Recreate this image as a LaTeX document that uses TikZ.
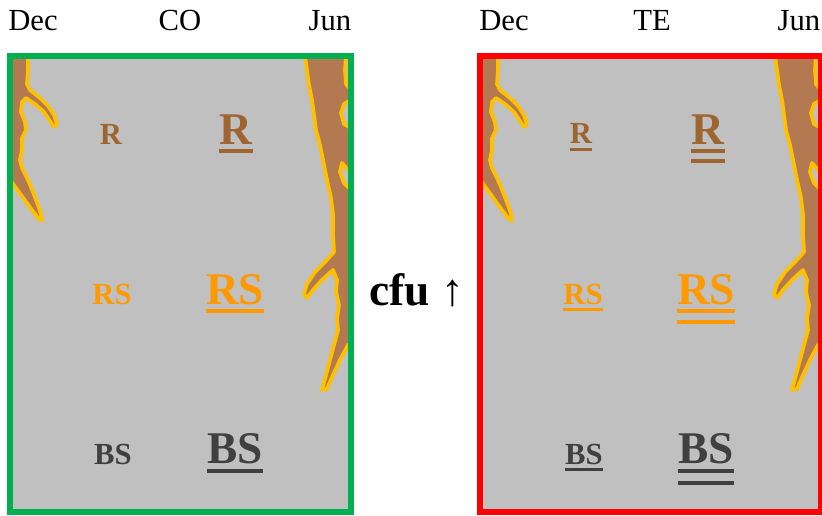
\documentclass[tikz,border=0pt]{standalone}
\usepackage{fontspec}
\setmainfont{Liberation Serif}
\usetikzlibrary{calc}

\definecolor{panelgray}{HTML}{C0C0C0}
\definecolor{cogreen}{HTML}{00B050}
\definecolor{tered}{HTML}{FF0000}
\definecolor{rootbrown}{HTML}{B37A52}
\definecolor{rootgold}{HTML}{FFC000}
\definecolor{rcol}{HTML}{9E6530}
\definecolor{rscol}{HTML}{FF9900}
\definecolor{bscol}{HTML}{404040}

\tikzset{
  frame/.style={line width=4.5pt},
  root/.style={fill=rootbrown, draw=rootgold, line width=2.8pt, line join=round},
  head/.style={font=\fontsize{23}{23}\selectfont, anchor=base, inner sep=0pt},
  small/.style={font=\bfseries\fontsize{23}{23}\selectfont, anchor=base, inner sep=0pt},
  big/.style={font=\bfseries\fontsize{34}{34}\selectfont, anchor=base, inner sep=0pt},
  thinul/.style={line width=2.25pt},
  thickul/.style={line width=3pt},
}

\begin{document}
\begin{tikzpicture}[x=0.75pt,y=-0.75pt]
\useasboundingbox (0,0) rectangle (822,515);

% gray panels with the roots on them
\foreach \dx in {0,470}{
\begin{scope}[shift={(\dx,0)}]
  \fill[panelgray] (10,56) rectangle (351,512);
  % root coming in from the left
  \draw[root] (10,56) -- (28,56) -- (28,70) -- (27,84) -- (30,90) -- (40,98) -- (48,106)
    -- (54,115) -- (57,124) -- (54,127) -- (50,121) -- (44,112) -- (35,104) -- (26,98)
    -- (22,102) -- (21,112) -- (25,122) -- (26,130) -- (22,138) -- (22,150) -- (20,160)
    -- (22,168) -- (28,180) -- (33,192) -- (38,205) -- (41,214) -- (42,221) -- (38,218)
    -- (32,210) -- (24,199) -- (16,188) -- (10,180) -- cycle;
  % root coming in from the right
  \draw[root] (305,56) -- (307,70) -- (309,85) -- (312,100) -- (314,115) -- (316,130)
    -- (320,145) -- (323,160) -- (327,180) -- (331,198) -- (333,215) -- (333,235)
    -- (334,252) -- (325,262) -- (315,272) -- (307,284) -- (304,294) -- (307,298)
    -- (313,290) -- (322,280) -- (333,270) -- (337,280) -- (336,292) -- (339,305)
    -- (337,318) -- (338,330) -- (334,345) -- (330,360) -- (326,375) -- (322,390)
    -- (327,389) -- (333,375) -- (340,360) -- (348,345) -- (351,343) -- (351,190)
    -- (344,183) -- (340,172) -- (342,163) -- (348,170) -- (351,172) -- (351,128)
    -- (344,124) -- (341,113) -- (344,104) -- (351,100) -- (351,90) -- (346,84)
    -- (345,70) -- (346,56) -- cycle;
\end{scope}
}
\draw[frame, cogreen] (10,56) rectangle (351,512);
\draw[frame, tered] (480,56) rectangle (821,512);

% headers
\node[head] (coDec) at (33,30) {Dec};
\node[head] (coHead) at (180,30) {CO};
\node[head] (coJun) at (330,30) {Jun};
\node[head] (teDec) at (504,30) {Dec};
\node[head] (teHead) at (652,30) {TE};
\node[head] (teJun) at (799,30) {Jun};

% CO panel
\node[small, rcol] (coR) at (111,144) {R};
\node[big, rcol] (coRbig) at (236,144) {R};
\node[small, rscol] (coRS) at (112,304) {RS};
\node[big, rscol] (coRSbig) at (235,304) {RS};
\node[small, bscol] (coBS) at (113,464) {BS};
\node[big, bscol] (coBSbig) at (235,463) {BS};
\draw[thickul, rcol] ($(coRbig.base west)+(0,7)$) -- ($(coRbig.base east)+(0,7)$);
\draw[thickul, rscol] ($(coRSbig.base west)+(0,7)$) -- ($(coRSbig.base east)+(0,7)$);
\draw[thickul, bscol] ($(coBSbig.base west)+(0,8)$) -- ($(coBSbig.base east)+(0,8)$);

% TE panel
\node[small, rcol] (teR) at (581,143) {R};
\node[big, rcol] (teRbig) at (708,144) {R};
\node[small, rscol] (teRS) at (583,304) {RS};
\node[big, rscol] (teRSbig) at (706,304) {RS};
\node[small, bscol] (teBS) at (584,464) {BS};
\node[big, bscol] (teBSbig) at (706,463) {BS};
\draw[thinul, rcol] ($(teR.base west)+(0,6)$) -- ($(teR.base east)+(0,6)$);
\draw[thinul, rscol] ($(teRS.base west)+(0,5)$) -- ($(teRS.base east)+(0,5)$);
\draw[thinul, bscol] ($(teBS.base west)+(0,5)$) -- ($(teBS.base east)+(0,5)$);
\foreach \o in {7,17}{
  \draw[thickul, rcol] ($(teRbig.base west)+(0,\o)$) -- ($(teRbig.base east)+(0,\o)$);
}
\foreach \o in {7,18}{
  \draw[thickul, rscol] ($(teRSbig.base west)+(0,\o)$) -- ($(teRSbig.base east)+(0,\o)$);
}
\foreach \o in {8,20}{
  \draw[thickul, bscol] ($(teBSbig.base west)+(0,\o)$) -- ($(teBSbig.base east)+(0,\o)$);
}

% between the panels
\node[anchor=base west, inner sep=0pt, font=\fontsize{34}{34}\selectfont] (cfu) at (369,305) {\textbf{cfu} ↑};
\end{tikzpicture}
\end{document}
